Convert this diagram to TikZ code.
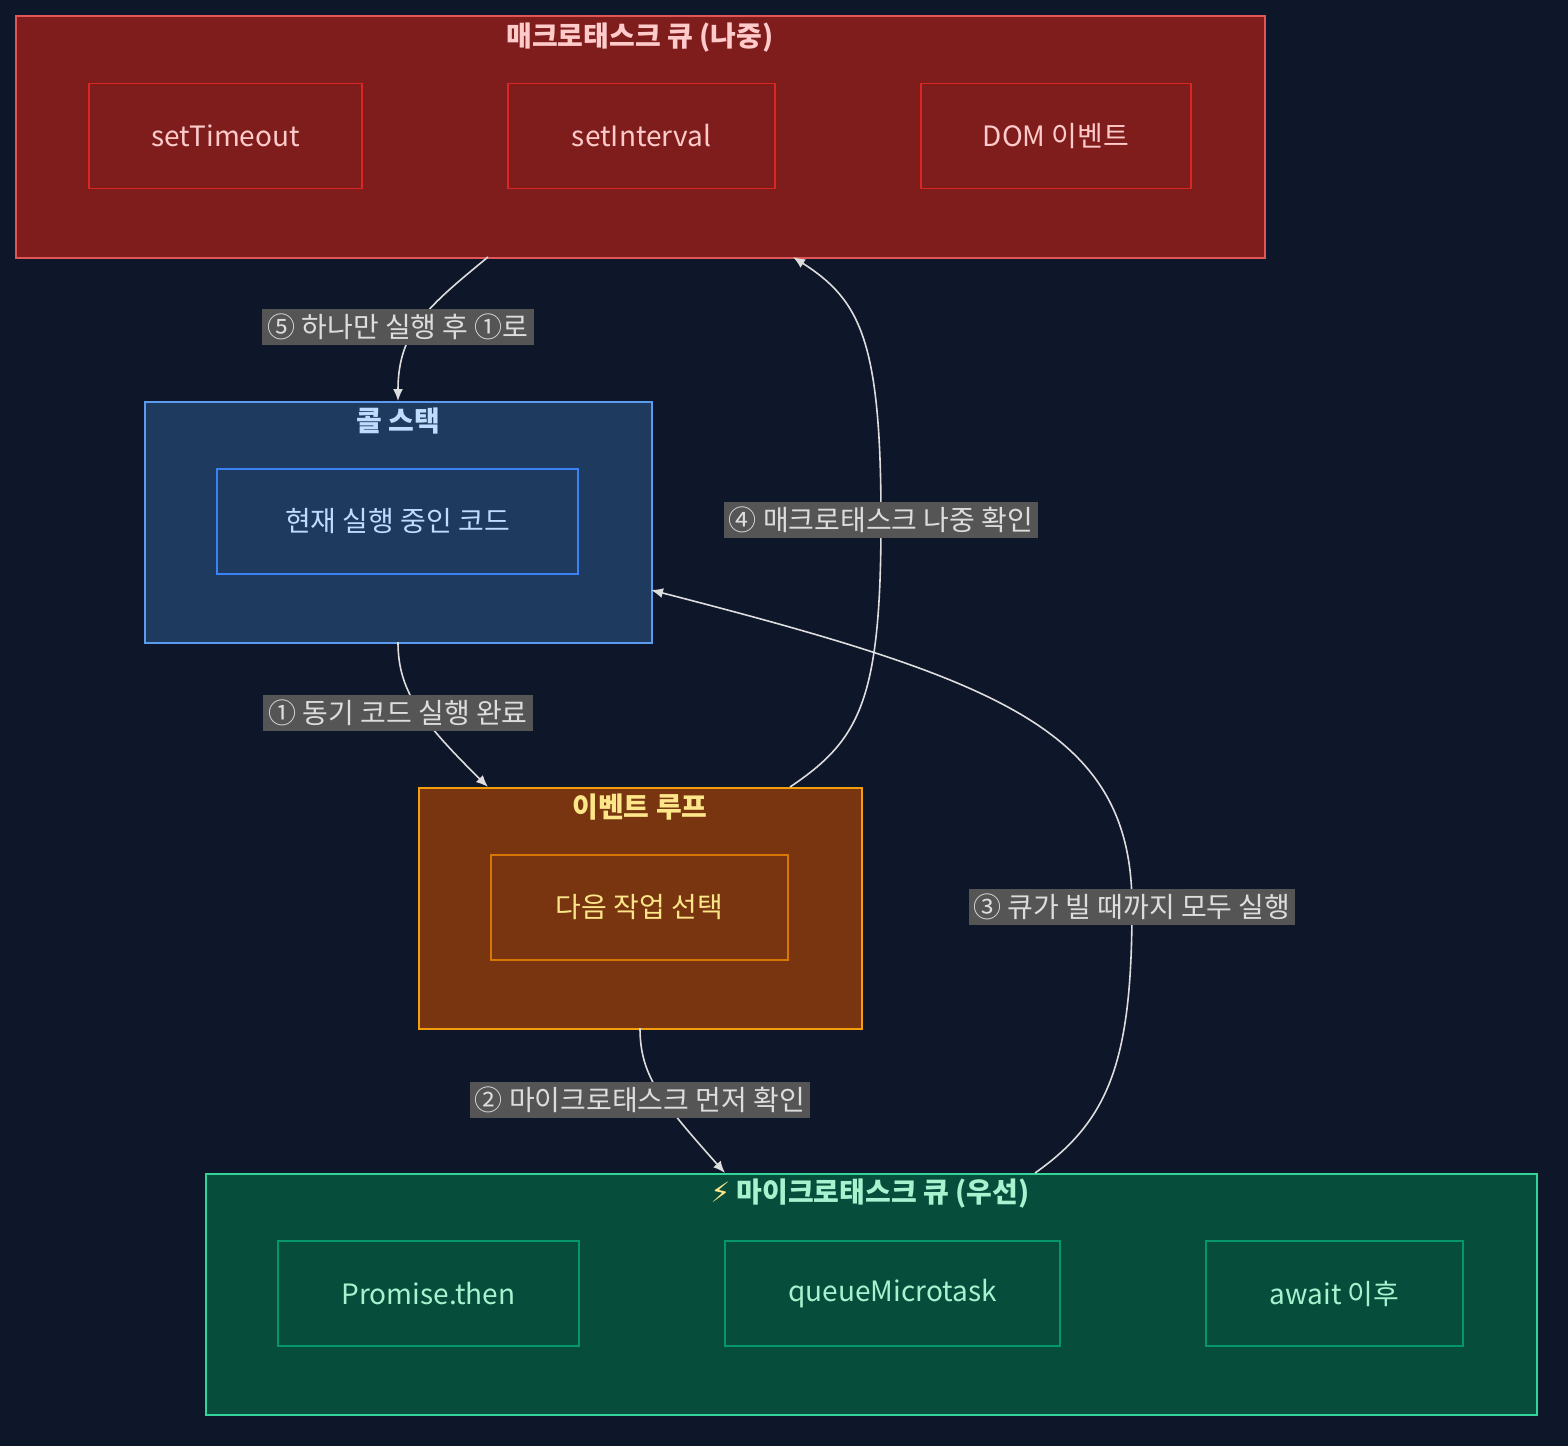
\documentclass[tikz,border=0pt]{standalone}
\usepackage{fontspec}
\setmainfont{Noto Sans CJK KR}
\newfontfamily\symfont{DejaVu Sans}
\usetikzlibrary{positioning,arrows.meta}
\definecolor{bgc}{HTML}{0E1629}
\definecolor{macfill}{HTML}{7F1D1D}\definecolor{macline}{HTML}{E05555}\definecolor{macin}{HTML}{DC2626}\definecolor{mactext}{HTML}{FECACA}
\definecolor{stkfill}{HTML}{1E3A5F}\definecolor{stkline}{HTML}{5B9BF0}\definecolor{stkin}{HTML}{3B82F6}\definecolor{stktext}{HTML}{BFDBFE}
\definecolor{evfill}{HTML}{78350F}\definecolor{evline}{HTML}{F59E0B}\definecolor{evin}{HTML}{D97706}\definecolor{evtext}{HTML}{FDE68A}
\definecolor{micfill}{HTML}{064E3B}\definecolor{micline}{HTML}{34D399}\definecolor{micin}{HTML}{059669}\definecolor{mictext}{HTML}{A7F3D0}
\definecolor{lblfill}{HTML}{555555}\definecolor{lbltext}{HTML}{DDDDDD}
\begin{document}
\begin{tikzpicture}[x=0.5pt,y=-0.5pt]
  \tikzset{box/.style={rectangle, draw, line width=0.8pt, anchor=north west, inner sep=0pt},
    item/.style={rectangle, draw, line width=0.8pt, minimum height=52.5pt, font=\fontsize{14}{16}\selectfont},
    title/.style={font=\bfseries\fontsize{14}{16}\selectfont},
    connect/.style={-{Latex[length=6pt,width=5pt]}, draw=lbltext, line width=0.8pt},
    tag/.style={fill=lblfill, text=lbltext, inner sep=2.5pt, font=\fontsize{14}{16}\selectfont}}
  \fill[bgc] (0,0) rectangle (1568,1446);
  \useasboundingbox (0,0) rectangle (1568,1446);
  % macrotask queue
  \node[box, draw=macline, fill=macfill, minimum width=624.5pt, minimum height=121pt] (macro) at (15,15) {};
  \node[title, text=mactext] (macrot) at (640,38) {매크로태스크 큐 (나중)};
  \node[item, draw=macin, fill=macfill, text=mactext, minimum width=136.5pt] (timeout) at (225.5,136) {setTimeout};
  \node[item, draw=macin, fill=macfill, text=mactext, minimum width=133.5pt] (interval) at (641.5,136) {setInterval};
  \node[item, draw=macin, fill=macfill, text=mactext, minimum width=135pt] (dom) at (1056,136) {DOM 이벤트};
  % call stack
  \node[box, draw=stkline, fill=stkfill, minimum width=253.5pt, minimum height=120.5pt] (stack) at (144,401) {};
  \node[title, text=stktext] (stackt) at (398,421) {콜 스택};
  \node[item, draw=stkin, fill=stkfill, text=stktext, minimum width=180.5pt] (current) at (397.5,521.5) {현재 실행 중인 코드};
  % event loop
  \node[box, draw=evline, fill=evfill, minimum width=221.5pt, minimum height=120.5pt] (loop) at (418,787) {};
  \node[title, text=evtext] (loopt) at (640,807) {이벤트 루프};
  \node[item, draw=evin, fill=evfill, text=evtext, minimum width=148.5pt] (pick) at (639.5,907.5) {다음 작업 선택};
  % microtask queue
  \node[box, draw=micline, fill=micfill, minimum width=665.5pt, minimum height=120.5pt] (micro) at (205,1173) {};
  \node[title, text=mictext] (microt) at (870,1194) {{\symfont\color{evtext}⚡}\ 마이크로태스크 큐 (우선)};
  \node[item, draw=micin, fill=micfill, text=mictext, minimum width=150.5pt] (promise) at (428.5,1293.5) {Promise.then};
  \node[item, draw=micin, fill=micfill, text=mictext, minimum width=167.5pt] (qmt) at (892.5,1293.5) {queueMicrotask};
  \node[item, draw=micin, fill=micfill, text=mictext, minimum width=128.5pt] (await) at (1334.5,1293.5) {await 이후};
  % connector ends
  \coordinate (s1) at (398,642); \coordinate (e1) at (488,787);
  \coordinate (s2) at (640,1028); \coordinate (e2) at (725,1173);
  \coordinate (s3) at (1035,1173); \coordinate (e3) at (651,590);
  \coordinate (s4) at (790,787); \coordinate (e4) at (793,257);
  \coordinate (s5) at (488,257); \coordinate (e5) at (398,401);
  \draw[connect] (s1) .. controls (398,690) and (420,720) .. (e1);
  \draw[connect] (s2) .. controls (640,1075) and (660,1100) .. (e2);
  \draw[connect] (s3) .. controls (1110,1120) and (1132,1060) .. (1132,906)
    .. controls (1132,730) and (1000,680) .. (e3);
  \draw[connect] (s4) .. controls (860,740) and (881,700) .. (881,520)
    .. controls (881,340) and (860,300) .. (e4);
  \draw[connect] (s5) .. controls (430,305) and (398,330) .. (e5);
  \node[tag] (l1) at (398,713) {① 동기 코드 실행 완료};
  \node[tag] (l2) at (640,1100) {② 마이크로태스크 먼저 확인};
  \node[tag] (l3) at (1132,907) {③ 큐가 빌 때까지 모두 실행};
  \node[tag] (l4) at (881,520) {④ 매크로태스크 나중 확인};
  \node[tag] (l5) at (398,327) {⑤ 하나만 실행 후 ①로};
\end{tikzpicture}
\end{document}
